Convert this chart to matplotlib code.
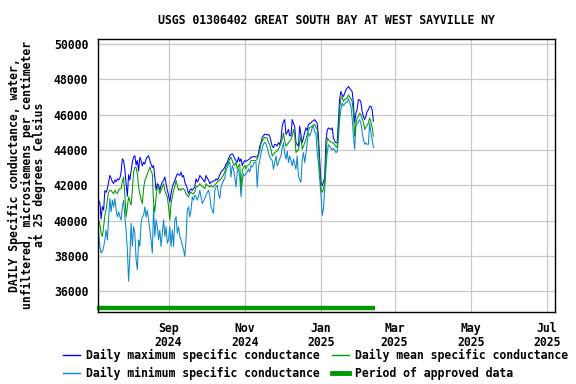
import numpy as np
import pandas as pd
import matplotlib
matplotlib.use("Agg")
import matplotlib.pyplot as plt
import matplotlib.transforms as mtransforms
from matplotlib.lines import Line2D

# daily values, 2024-07-07 .. 2025-02-12 (microsiemens/cm)
start_date = "2024-07-07"

daily_max = [
    41160, 41000, 40100, 40800, 40600, 41700, 41600, 41810, 42200, 42560,
    42400, 42200, 42100, 42300, 42200, 42370, 42300, 42400, 42750, 43500,
    43400, 42900, 42100, 41380, 42600, 42300, 42800, 43300, 43600, 43680,
    43150, 43400, 42800, 43590, 43400, 43100, 43300, 43200, 43500, 43590,
    43680, 43400, 43200, 43000, 43120, 42470, 41720, 42090, 42000, 41720,
    42000, 42200, 42280, 42470, 42100, 41720, 41440, 41060, 41530, 41910,
    42100, 42280, 42470, 42650, 42600, 42560, 42750, 42470, 42560, 42190,
    42000, 41810, 41530, 41700, 41800, 41720, 41810, 41910, 42370, 42190,
    42300, 42560, 42470, 42370, 42300, 42190, 42560, 42400, 42300, 42090,
    42190, 42190, 42250, 42250, 42370, 42300, 42400, 42600, 42750, 42840,
    42900, 43030, 43200, 43310, 43500, 43680, 43750, 43780, 43680, 43500,
    43400, 43310, 43590, 43350, 43500, 43120, 43300, 43400, 43350, 43400,
    43450, 43500, 43590, 43600, 43620, 43630, 43590, 43600, 43800, 44200,
    44430, 44700, 44800, 44900, 44880, 44850, 44880, 44780, 44500, 44220,
    44130, 44320, 44300, 44220, 44410, 44300, 44600, 45350, 45600, 45720,
    44880, 45000, 45160, 44800, 44800, 45720, 45500, 45350, 44410, 44300,
    44220, 45350, 44900, 44410, 44690, 45000, 45250, 45100, 45440, 45500,
    45530, 45630, 45650, 45720, 45600, 45530, 44780, 43480, 42170, 41980,
    42200, 42450, 44500, 45100, 45250, 45200, 45160, 45250, 44690, 44500,
    44410, 44410, 45720, 46900, 47310, 47100, 47030, 47200, 47400, 47500,
    47590, 47500, 47400, 47310, 46650, 45530, 46090, 46280, 46840, 46840,
    46700, 46190, 45900, 45720, 45900, 46190, 46280, 46470, 46470, 46280,
    45620,
]

daily_mean = [
    40040, 39760, 39300, 39100, 39660, 40300, 40600, 41160, 41620, 41700,
    41720, 41600, 41530, 41720, 41600, 41530, 41720, 41800, 41810, 42190,
    42470, 41440, 40220, 40780, 41340, 41100, 40880, 41720, 42750, 43030,
    43000, 42650, 41910, 41530, 41200, 40970, 41810, 42280, 42400, 42650,
    42840, 43030, 42800, 42650, 40970, 40500, 41340, 41910, 41900, 41530,
    41720, 41900, 42090, 41720, 41500, 41340, 40780, 40040, 40970, 41340,
    41720, 41910, 42280, 42000, 41720, 41810, 41720, 41810, 41810, 41720,
    41500, 41440, 41340, 41530, 41620, 41530, 41530, 41620, 41910, 41910,
    42000, 42090, 42000, 41910, 41900, 41810, 42090, 42000, 41950, 41910,
    42000, 41910, 41900, 42000, 42100, 42190, 42250, 42300, 42370, 42470,
    42600, 42750, 43030, 43200, 43310, 43500, 43590, 43400, 43210, 43120,
    43310, 42930, 43100, 43210, 41810, 42840, 43000, 43120, 42930, 43120,
    43150, 43210, 43400, 43400, 43400, 43400, 43400, 43500, 43700, 43960,
    44340, 44500, 44620, 44710, 44700, 44670, 44430, 44300, 44040, 43660,
    43750, 43850, 43900, 43950, 44040, 44200, 44400, 44600, 44970, 44500,
    44220, 44300, 44410, 44500, 44600, 44780, 45160, 44900, 43850, 43950,
    44040, 44400, 44780, 44040, 44200, 44400, 44600, 44900, 45160, 45250,
    45300, 45350, 45400, 45440, 45300, 45160, 44220, 42910, 41790, 41600,
    41800, 42170, 43500, 44690, 44600, 44500, 44450, 44410, 44410, 44300,
    44200, 44130, 45160, 46370, 46900, 47030, 46750, 46850, 46900, 46930,
    47120, 47000, 46900, 46750, 46090, 44780, 45500, 45810, 45900, 46090,
    46000, 45800, 45530, 45160, 45300, 45400, 45530, 45810, 45600, 45300,
    44780,
]

daily_min = [
    39290, 38540, 38170, 38260, 38500, 38910, 39470, 38910, 40040, 41250,
    40500, 41160, 40780, 41250, 40600, 40220, 40500, 40220, 40040, 40780,
    41160, 40220, 39470, 38350, 36580, 37980, 39850, 38540, 39660, 39290,
    37790, 37230, 38910, 38540, 39850, 40220, 40300, 40780, 40200, 40600,
    40040, 39500, 38910, 38170, 40780, 39100, 40040, 39660, 38910, 39470,
    38540, 39290, 40040, 39100, 39660, 38730, 38910, 39660, 38540, 39470,
    38540, 40040, 40220, 39290, 39660, 39100, 38910, 38600, 38350, 37980,
    38910, 40600, 40780, 40220, 40600, 41340, 41160, 41440, 41340, 41160,
    41400, 41720, 41340, 40970, 41100, 41250, 41440, 41600, 41720, 41440,
    40780, 40600, 40410, 41720, 41900, 42000, 41530, 41250, 41900, 42090,
    42280, 42400, 42840, 43000, 43210, 43310, 42470, 43120, 42930, 42470,
    41900, 42750, 42930, 42470, 41350, 42200, 42650, 42560, 42650, 42750,
    42930, 42750, 43120, 43030, 43210, 43310, 43300, 41900, 43030, 43400,
    43780, 44100, 44340, 44430, 44340, 44150, 43850, 43600, 43480, 43400,
    42910, 43300, 43660, 43100, 43290, 43500, 43660, 44130, 44410, 43800,
    43480, 43940, 43290, 43660, 43400, 43100, 43480, 43200, 42910, 43660,
    42540, 42300, 42170, 43480, 43850, 43290, 43800, 44410, 44970, 44780,
    45000, 45250, 45350, 45000, 44970, 43850, 43290, 42350, 41500, 40300,
    40670, 41790, 42910, 43800, 44300, 44200, 44100, 44000, 44100, 44000,
    43850, 43900, 44600, 45720, 46300, 46650, 46500, 46600, 46700, 46700,
    46900, 46700, 46470, 45800, 44800, 44040, 45340, 45500, 45600, 45720,
    45530, 45000, 44600, 44320, 44400, 44320, 44320, 45530, 44970, 44600,
    44130,
]

dates = pd.date_range(start_date, periods=len(daily_max), freq="D")
approved_start = pd.Timestamp("2024-07-06")
approved_end = pd.Timestamp("2025-02-13")

tick_dates = pd.to_datetime(["2024-09-01", "2024-11-01", "2025-01-01",
                             "2025-03-01", "2025-05-01", "2025-07-01"])
tick_labels = ["Sep\n2024", "Nov\n2024", "Jan\n2025",
               "Mar\n2025", "May\n2025", "Jul\n2025"]
y_ticks = list(range(36000, 50001, 2000))

c_max = "#0000ff"
c_min = "#0a88cc"
c_mean = "#009900"

plt.rcParams['font.family'] = ['DejaVu Sans Mono']
plt.rcParams['font.weight'] = 'bold'
fs = 8.3

fig = plt.figure(figsize=(5.76, 3.84), dpi=100)
ax = fig.add_axes([98 / 576, 1 - 312 / 384, 457 / 576, 273 / 384])

ax.plot(dates, daily_max, color=c_max, lw=0.75)
ax.plot(dates, daily_min, color=c_min, lw=0.75)
ax.plot(dates, daily_mean, color=c_mean, lw=0.75)

# period of approved data bar near the bottom of the plot
trans = mtransforms.blended_transform_factory(ax.transData, ax.transAxes)
ax.plot([approved_start, approved_end], [0.015, 0.015], color=c_mean,
        lw=3.2, solid_capstyle='butt', transform=trans, clip_on=False)

ax.set_xlim(pd.Timestamp("2024-07-06 12:00"), pd.Timestamp("2025-07-07 10:00"))
ax.set_ylim(34830, 50280)
ax.set_xticks(tick_dates)
ax.set_xticklabels(tick_labels, fontsize=fs, fontweight='bold', linespacing=1.1)
ax.set_yticks(y_ticks)
ax.set_yticklabels([str(v) for v in y_ticks], fontsize=fs, fontweight='bold')
ax.tick_params(length=0, pad=7)
ax.tick_params(axis='x', pad=7)
ax.grid(True, color="#c8c8c8", lw=0.9)
ax.set_axisbelow(True)
for s in ax.spines.values():
    s.set_linewidth(1.0)
    s.set_color("black")

fig.text(326 / 576, 1 - 20 / 384, "USGS 01306402 GREAT SOUTH BAY AT WEST SAYVILLE NY",
         ha='center', va='center', fontsize=fs, fontweight='bold')
fig.text(27 / 576, 1 - 175 / 384,
         "DAILY Specific conductance, water,\n"
         "unfiltered, microsiemens per centimeter\n"
         "at 25 degrees Celsius",
         rotation=90, ha='center', va='center', multialignment='center',
         fontsize=fs, fontweight='bold', linespacing=0.95)

handles = [
    Line2D([], [], color=c_max, lw=1),
    Line2D([], [], color=c_min, lw=1),
    Line2D([], [], color=c_mean, lw=1),
    Line2D([], [], color=c_mean, lw=3.5),
]
labels = ["Daily maximum specific conductance",
          "Daily minimum specific conductance",
          "Daily mean specific conductance",
          "Period of approved data"]
fig.legend(handles, labels, ncol=2, loc='upper left',
           bbox_to_anchor=(63 / 576, 1 - 349 / 384), frameon=False,
           handlelength=1.45, handletextpad=0.55,
           columnspacing=1.05, labelspacing=0.4, borderpad=0,
           borderaxespad=0, prop={'weight': 'bold', 'size': fs})

fig.savefig("out.png", dpi=100)
